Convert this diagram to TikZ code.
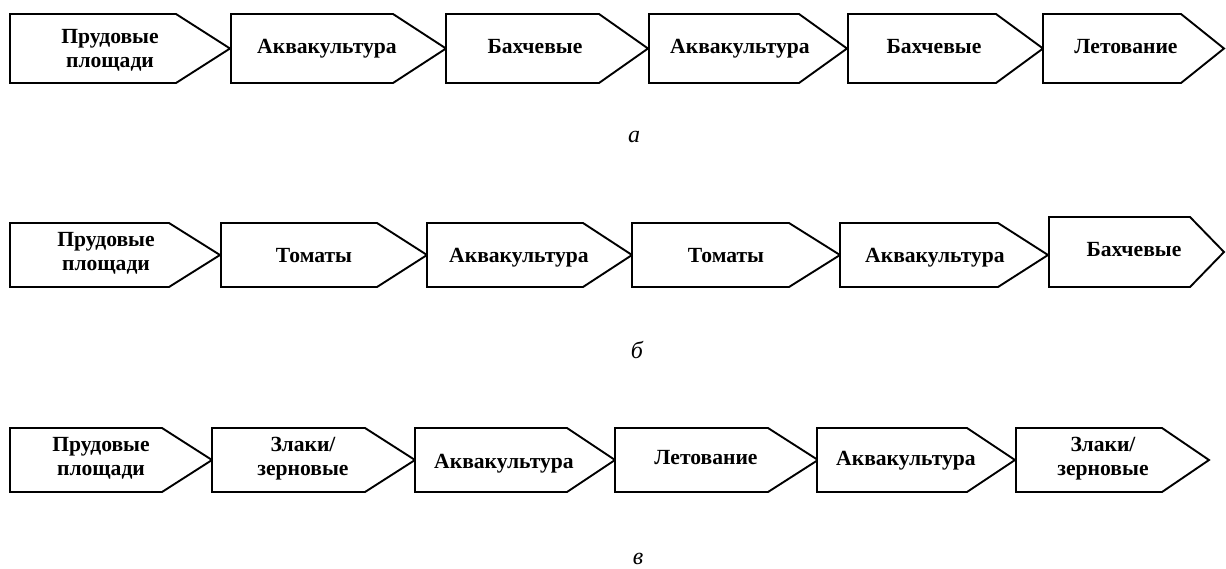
\documentclass[tikz,border=0pt]{standalone}
\usepackage{fontspec}
\setmainfont{Liberation Serif}
\begin{document}
\begin{tikzpicture}[x=1pt,y=-1pt,
  sigbox/.style={draw=black,line width=1.9pt,line join=miter,fill=white},
  lbl/.style={font=\fontsize{21.6}{24}\selectfont\bfseries,inner sep=0pt,align=center},
  rowlabel/.style={font=\fontsize{24}{28}\selectfont\itshape,inner sep=0pt,anchor=base}]
\useasboundingbox (0,0) rectangle (1226,568);
\newcommand{\sigshape}[5]{\draw[sigbox] (#1,#4) -- (#2,#4) -- (#3,{(#4+#5)/2}) -- (#2,#5) -- (#1,#5) -- cycle;}
% row a
\sigshape{10}{176}{230}{14}{83}
\sigshape{231}{393}{446}{14}{83}
\sigshape{446}{599}{648}{14}{83}
\sigshape{649}{799}{847}{14}{83}
\sigshape{848}{996}{1043}{14}{83}
\sigshape{1043}{1181}{1224}{14}{83}
\node[lbl,anchor=north] (a1) at (110,29) {Прудовые\\площади};
\node[lbl,anchor=base] (a2) at (327,53) {Аквакультура};
\node[lbl,anchor=base] (a3) at (535,53) {Бахчевые};
\node[lbl,anchor=base] (a4) at (740,53) {Аквакультура};
\node[lbl,anchor=base] (a5) at (934,53) {Бахчевые};
\node[lbl,anchor=base] (a6) at (1126,53) {Летование};
\node[rowlabel] (la) at (634,142) {а};
% row b
\sigshape{10}{169}{220}{223}{287}
\sigshape{221}{377}{427}{223}{287}
\sigshape{427}{583}{632}{223}{287}
\sigshape{632}{789}{840}{223}{287}
\sigshape{840}{998}{1048}{223}{287}
\sigshape{1049}{1190}{1224}{217}{287}
\node[lbl,anchor=north] (b1) at (106,232) {Прудовые\\площади};
\node[lbl,anchor=base] (b2) at (314,262) {Томаты};
\node[lbl,anchor=base] (b3) at (519,262) {Аквакультура};
\node[lbl,anchor=base] (b4) at (726,262) {Томаты};
\node[lbl,anchor=base] (b5) at (935,262) {Аквакультура};
\node[lbl,anchor=base] (b6) at (1134,256) {Бахчевые};
\node[rowlabel] (lb) at (637,358) {б};
% row c
\sigshape{10}{162}{212}{428}{492}
\sigshape{212}{365}{415}{428}{492}
\sigshape{415}{567}{615}{428}{492}
\sigshape{615}{768}{818}{428}{492}
\sigshape{817}{967}{1015}{428}{492}
\sigshape{1016}{1162}{1209}{428}{492}
\node[lbl,anchor=north] (c1) at (101,437) {Прудовые\\площади};
\node[lbl,anchor=north] (c2) at (303,437) {Злаки/\\зерновые};
\node[lbl,anchor=base] (c3) at (504,468) {Аквакультура};
\node[lbl,anchor=base] (c4) at (706,464) {Летование};
\node[lbl,anchor=base] (c5) at (906,465) {Аквакультура};
\node[lbl,anchor=north] (c6) at (1103,437) {Злаки/\\зерновые};
\node[rowlabel] (lc) at (638,564) {в};
\end{tikzpicture}
\end{document}
